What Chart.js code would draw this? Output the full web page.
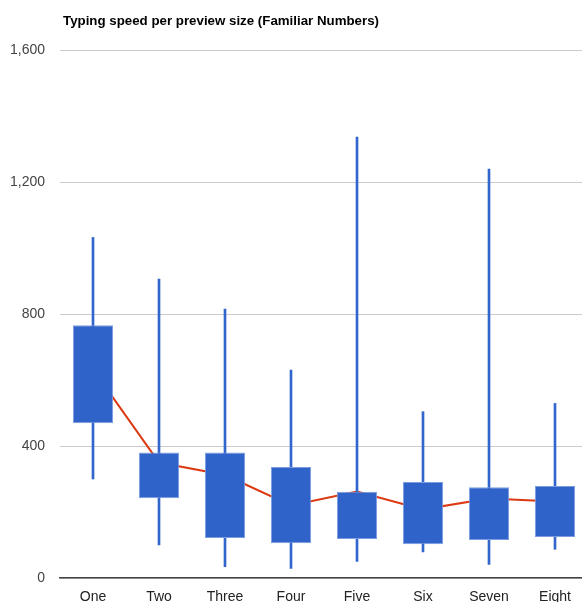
<!DOCTYPE html>
<html>
<head>
<meta charset="utf-8">
<script src="https://cdn.jsdelivr.net/npm/chart.js@4"></script>
<style>
  html, body { margin: 0; padding: 0; overflow: hidden; background: #fff; }
  #wrap { width: 588px; height: 602px; }
</style>
</head>
<body>
<div id="wrap"><canvas id="grafica" width="588" height="602"></canvas></div>
<script>
const labels = ['One', 'Two', 'Three', 'Four', 'Five', 'Six', 'Seven', 'Eight']

// whiskers (min / max)
const whiskerLow = [300, 100, 34, 29, 50, 79, 41, 87]
const whiskerHigh = [1032, 906, 815, 630, 1336, 504, 1239, 529]

// boxes (lower / upper)
const boxLow = [469, 242, 121, 105, 118, 102, 115, 124]
const boxHigh = [766, 380, 380, 336, 261, 291, 275, 279]

// red line
const lineValues = [632, 350, 312, 220, 262, 208, 241, 232]

const yTicks = [0, 400, 800, 1200, 1600]

const titleText = 'Typing speed per preview size (Familiar Numbers)'

const graph = document.querySelector("#grafica");

// title drawn from the left edge of the plot area
const titlePlugin = {
	id: 'leftTitle',
	afterDraw(chart) {
		const ctx = chart.ctx;
		ctx.save();
		ctx.font = 'bold 13.3px "Liberation Sans", Arial, sans-serif';
		ctx.fillStyle = '#000';
		ctx.textAlign = 'left';
		ctx.textBaseline = 'alphabetic';
		ctx.fillText(titleText, chart.chartArea.left + 3, 25);
		ctx.restore();
	}
};

const data = {
	labels: labels,
	datasets: [{
		type: 'bar',
		label: 'box',
		data: labels.map((l, i) => [boxLow[i], boxHigh[i]]),
		backgroundColor: '#3063c9',
		borderColor: '#7b9ce0',
		borderWidth: 1,
		borderSkipped: false,
		grouped: false,
		categoryPercentage: 1,
		barPercentage: 0.61,
		order: 0
	}, {
		type: 'bar',
		label: 'whisker',
		data: labels.map((l, i) => [whiskerLow[i], whiskerHigh[i]]),
		backgroundColor: '#3366cc',
		borderWidth: 0,
		grouped: false,
		barThickness: 2,
		order: 1
	}, {
		type: 'line',
		label: 'line',
		data: lineValues,
		borderColor: '#dc3912',
		borderWidth: 2,
		pointRadius: 0,
		tension: 0,
		fill: false,
		order: 2
	}]
};

const config = {
	data: data,
	plugins: [titlePlugin],
	options: {
		responsive: false,
		animation: false,
		layout: { padding: { top: 50, left: 0, right: 0, bottom: 0 } },
		plugins: {
			legend: { display: false },
			tooltip: { enabled: false },
			title: { display: false }
		},
		scales: {
			x: {
				offset: true,
				grid: { display: false },
				border: { display: true, color: '#444', width: 1.5 },
				ticks: {
					color: '#222',
					padding: 3,
					font: { family: '"Liberation Sans", Arial, sans-serif', size: 14 }
				},
				afterFit: (scale) => { scale.height = 24; }
			},
			y: {
				min: 0,
				max: 1600,
				afterBuildTicks: (scale) => { scale.ticks = yTicks.map(v => ({ value: v })); },
				grid: { color: '#cccccc', drawTicks: false },
				border: { display: false },
				ticks: {
					color: '#444',
					padding: 15,
					font: { family: '"Liberation Sans", Arial, sans-serif', size: 14 },
					callback: (v) => v.toLocaleString('en-US')
				},
				afterFit: (scale) => { scale.width = 60; }
			}
		}
	}
};
new Chart(graph, config);
</script>
</body>
</html>
